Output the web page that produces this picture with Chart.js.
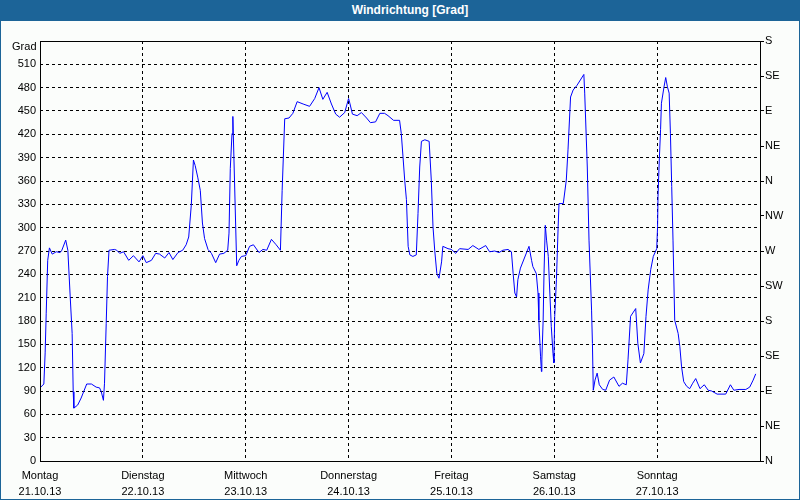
<!DOCTYPE html>
<html><head><meta charset="utf-8">
<script src="https://cdn.jsdelivr.net/npm/chart.js@4/dist/chart.umd.min.js"></script>
<style>
html,body{margin:0;padding:0;background:#fff}
#wrap{position:relative;width:800px;height:500px;overflow:hidden;background:#fbfdfb}
#c{position:absolute;left:0;top:0}
#title{position:absolute;left:0;top:0;width:800px;height:21px;background:#1c6498;color:#fff;font:bold 12px "Liberation Sans",Arial,sans-serif;line-height:21px;text-align:center;}
#title span{position:relative;left:10px}
#frame{position:absolute;left:0;top:0;width:800px;height:500px;box-sizing:border-box;border:1px solid #1c6498;pointer-events:none}
</style></head>
<body>
<div id="wrap">
<canvas id="c" width="800" height="500"></canvas>
<div id="title"><span>Windrichtung [Grad]</span></div>
<div id="frame"></div>
</div>
<script>
// hours since Montag 21.10.13 00:00
const hours = [0,0.9,1.2,1.45,1.8,2.2,2.85,3.8,4.7,5.1,6.0,6.5,7.05,7.5,7.75,7.9,8.8,9.6,10.9,12.0,13.1,13.9,14.3,14.8,15.05,15.45,15.75,16.1,17.4,17.9,18.6,19.5,20.7,21.8,23.1,24.0,24.8,26.0,27.0,27.9,29.1,30.1,31.0,32.2,33.3,34.1,34.7,35.3,35.8,36.2,36.8,37.4,37.9,38.4,39.2,40.0,41.0,41.9,42.9,43.8,44.1,44.4,44.8,45.0,45.9,46.4,47.0,48.0,48.9,49.8,51.1,52.0,52.9,54.0,55.1,56.1,56.5,57.1,58.1,59.0,60.0,61.4,62.9,64.1,65.1,66.0,67.0,68.0,69.0,69.9,71.1,72.0,72.3,72.9,74.0,75.0,76.2,77.1,78.3,79.3,80.4,81.2,82.5,83.9,84.3,84.7,85.1,85.5,85.9,86.3,87.0,87.8,88.2,88.6,89.0,89.8,90.8,91.3,91.7,92.1,92.6,93.1,93.7,94.0,95.2,96.0,97.0,97.9,99.9,101.0,102.4,104.0,104.9,106.1,107.1,108.0,109.2,110.0,110.4,110.8,111.2,111.5,112.1,114.1,114.7,115.0,115.8,116.2,116.4,116.8,117.0,117.1,117.4,117.6,117.9,118.2,118.6,119.0,119.3,119.7,119.9,120.1,120.5,120.9,121.1,122.1,122.8,123.2,123.8,124.4,125.3,126.9,127.1,127.7,128.1,128.7,128.9,129.1,129.5,130.0,130.5,131.3,132.0,132.9,133.9,135.1,135.9,136.8,137.2,137.8,139.0,139.5,140.1,140.9,141.4,141.9,142.5,143.1,143.9,144.1,144.2,144.5,144.8,145.0,145.6,146.0,146.4,146.8,147.1,147.4,147.7,148.1,148.9,149.3,149.7,150.2,150.9,151.6,152.3,153.0,154.0,155.0,155.9,156.7,158.0,160.0,161.1,161.9,163.1,164.7,165.6,166.4,167.0];
const degrees = [94,99,139,190,258,274,266,269,268,271,284,271,211,164,89,68,72,81,99,99,95,94,89,78,100,177,237,271,272,271,267,269,258,264,256,264,255,258,267,266,261,268,259,268,271,278,288,329,387,380,365,348,306,286,272,267,255,266,267,271,293,376,421,443,251,258,263,264,276,278,268,272,271,285,278,271,348,440,441,447,462,459,456,466,480,465,474,459,446,442,448,466,460,446,444,448,441,435,436,447,447,444,438,438,421,391,361,336,276,265,263,265,318,378,411,413,411,361,301,271,241,235,256,276,273,272,267,273,272,277,272,277,269,270,268,271,272,269,241,216,211,233,248,276,258,250,241,216,181,134,115,130,181,241,303,284,263,211,173,138,126,186,233,301,331,331,361,400,468,477,483,497,473,378,284,194,151,91,104,113,98,92,91,104,108,96,100,98,130,186,196,151,126,138,186,220,246,263,273,301,340,387,426,460,481,493,481,473,421,353,284,181,164,147,121,102,96,93,100,106,93,98,91,90,86,86,98,91,92,92,95,104,112];

const dayTicks = [0,24,48,72,96,120,144];
const dayNames = ['Montag','Dienstag','Mittwoch','Donnerstag','Freitag','Samstag','Sonntag'];
const dayDates = ['21.10.13','22.10.13','23.10.13','24.10.13','25.10.13','26.10.13','27.10.13'];
const gradTicks = [0,30,60,90,120,150,180,210,240,270,300,330,360,390,420,450,480,510,540];
const compassTicks = [0,45,90,135,180,225,270,315,360,405,450,495,540];
const compassLabels = ['N','NE','E','SE','S','SW','W','NW','N','NE','E','SE','S'];
const unitLabel = 'Grad';

const FONT = {family:'"Liberation Sans", Arial, sans-serif', size:11};

const bgPlugin = {
  id:'bg',
  beforeDraw(chart){
    const c = chart.ctx;
    c.save(); c.fillStyle = '#fbfdfb'; c.fillRect(0,0,chart.width,chart.height); c.restore();
  },
  afterDraw(chart){
    const c = chart.ctx, a = chart.chartArea;
    c.save();
    c.strokeStyle = '#000'; c.lineWidth = 1; c.setLineDash([]);
    const l = Math.round(a.left)+0.5, r = Math.round(a.right)+0.5, t = Math.round(a.top)+0.5, b = Math.round(a.bottom)+0.5;
    c.strokeRect(l, t, r-l, b-t);
    c.fillStyle = '#000';
    c.font = '11px "Liberation Sans", Arial, sans-serif';
    c.textAlign = 'right'; c.textBaseline = 'middle';
    c.fillText(unitLabel, l-4, t+5);
    c.restore();
  }
};

new Chart(document.getElementById('c'), {
  type:'line',
  data:{ datasets:[{
    data: hours.map((h,i)=>({x:h, y:degrees[i]})),
    borderColor:'#0000ff', borderWidth:1, pointRadius:0, tension:0, fill:false
  }]},
  options:{
    responsive:false, animation:false, events:[],
    layout:{padding:{top:41,left:0,right:0,bottom:0}},
    plugins:{legend:{display:false}, tooltip:{enabled:false}, title:{display:false}},
    scales:{
      x:{
        type:'linear', min:0, max:168,
        afterFit(s){ s.height = 39; },
        afterBuildTicks(s){ s.ticks = dayTicks.map(v=>({value:v})); },
        ticks:{ autoSkip:false, maxRotation:0, padding:7, color:'#000', font:{...FONT, lineHeight:16/11},
          callback:(v)=>{ const i = dayTicks.indexOf(v); return i>=0 ? [dayNames[i], dayDates[i]] : ''; } },
        grid:{ color:'#000', lineWidth:1, drawTicks:false },
        border:{ display:false, dash:[3,3] }
      },
      y:{
        type:'linear', position:'left', min:0, max:540,
        afterFit(s){ s.width = 40; },
        afterBuildTicks(s){ s.ticks = gradTicks.map(v=>({value:v})); },
        ticks:{ padding:4, color:'#000', font:FONT, callback:(v)=> v===540 ? '' : String(v) },
        grid:{ color:'#000', lineWidth:1, drawTicks:false },
        border:{ display:false, dash:[3,3] }
      },
      y2:{
        type:'linear', position:'right', min:0, max:540,
        afterFit(s){ s.width = 40; },
        afterBuildTicks(s){ s.ticks = compassTicks.map(v=>({value:v})); },
        ticks:{ padding:1, color:'#000', font:FONT,
          callback:(v)=>{ const i = compassTicks.indexOf(v); return i>=0 ? compassLabels[i] : ''; } },
        grid:{ drawOnChartArea:false, drawTicks:true, tickLength:4, color:'#000' },
        border:{ display:false }
      }
    }
  },
  plugins:[bgPlugin]
});
</script>
</body></html>
